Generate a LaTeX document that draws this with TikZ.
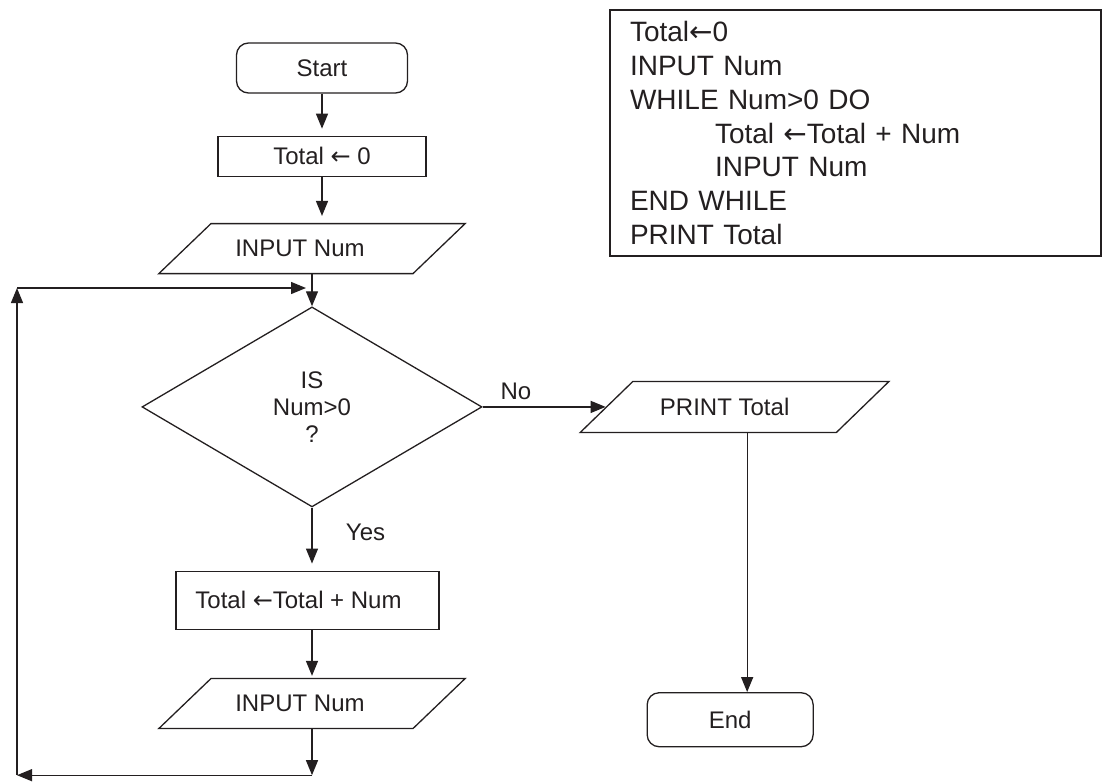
\documentclass[tikz,border=0pt]{standalone}
\usepackage{fontspec}
\setmainfont{Liberation Sans}
\newfontfamily\arrowfont{DejaVu Sans}
\usetikzlibrary{shapes.geometric, positioning, arrows.meta}
\definecolor{ink}{HTML}{231F20}
\newcommand{\larr}{{\arrowfont ←}}
\tikzset{
	->,
	>={Triangle[length=15pt,width=12pt]},
	node distance=40pt,
	flow/.style={font=\fontsize{24}{27}\selectfont},
	term/.style={draw, flow, rounded corners=12pt, minimum width=171pt, minimum height=50pt},
	proc/.style={draw, flow, minimum width=208pt, minimum height=40pt},
	io/.style={draw, flow, trapezium, trapezium left angle=39, trapezium right angle=141,
		trapezium stretches=true, minimum width=307pt, minimum height=50pt},
	decision/.style={draw, flow, diamond, align=center, minimum width=340pt, minimum height=200pt},
	codebox/.style={draw, align=left, text width=451pt, inner xsep=20pt, minimum height=246pt,
		font=\fontsize{28}{33.7}\selectfont},
	gap/.style={shorten >=7pt}}

\begin{document}
\begin{tikzpicture}[x=1pt, y=-1pt, line width=1.3pt, color=ink]
	\useasboundingbox (0,0) rectangle (1102,782);
	
	\node[term] (start) at (322,68) {Start};
	\node[proc, below=42pt of start] (init) {Total \larr\ 0};
	\node[io, below=46pt of init, xshift=-10pt] (in1) {\hspace*{-24pt}INPUT Num};
	\node[decision, below=32pt of in1] (dec) {IS\\Num>0\\?};
	\node[proc, minimum width=263pt, minimum height=58pt, below=63pt of dec, xshift=-4.5pt] (upd) {\hspace*{-18pt}Total \larr Total + Num};
	\node[io, below=48pt of upd, xshift=4.5pt] (in2) {\hspace*{-24pt}INPUT Num};
	
	\node[io, minimum width=309pt, minimum height=51pt, right=123pt of dec] (prt) {\hspace*{-20pt}PRINT Total};
	\node[term, minimum width=166pt, minimum height=54pt, below=259pt of prt, xshift=-4.5pt] (stop) {End};
	
	\node[codebox] (code) at (855.5,133) {Total\larr0\\INPUT Num\\WHILE Num>0 DO\\
		\hspace*{85pt}Total \larr Total + Num\\\hspace*{85pt}INPUT Num\\END WHILE\\PRINT Total};
	
	% loop back
	\coordinate[below=46pt of in2.south] (bt);
	\coordinate (lx) at (17,288);
	\coordinate (lp) at (306,288);
	\coordinate[right=17pt of stop.north] (pe);
	
	\draw 
	(start) edge[gap] (init)
	(init.south) edge[gap] (init.south |- in1.north)
	(dec.north |- in1.south) edge (dec.north)
	(dec.east) edge node[pos=.27, above=3pt, flow] {No} (dec.east -| prt.west)
	(dec.south) edge[gap] node[pos=.4, right=30pt, flow] {Yes} (dec.south |- upd.north)
	(dec.south |- upd.south) edge[shorten >=2pt] (dec.south |- in2.north)
	(dec.south |- in2.south) edge (dec.south |- bt)
	(dec.south |- bt) edge (lx |- bt)
	(lx |- bt) edge (lx)
	(lx) edge (lp)
	(pe |- prt.south) -- (pe)
	;
\end{tikzpicture}
\end{document}
